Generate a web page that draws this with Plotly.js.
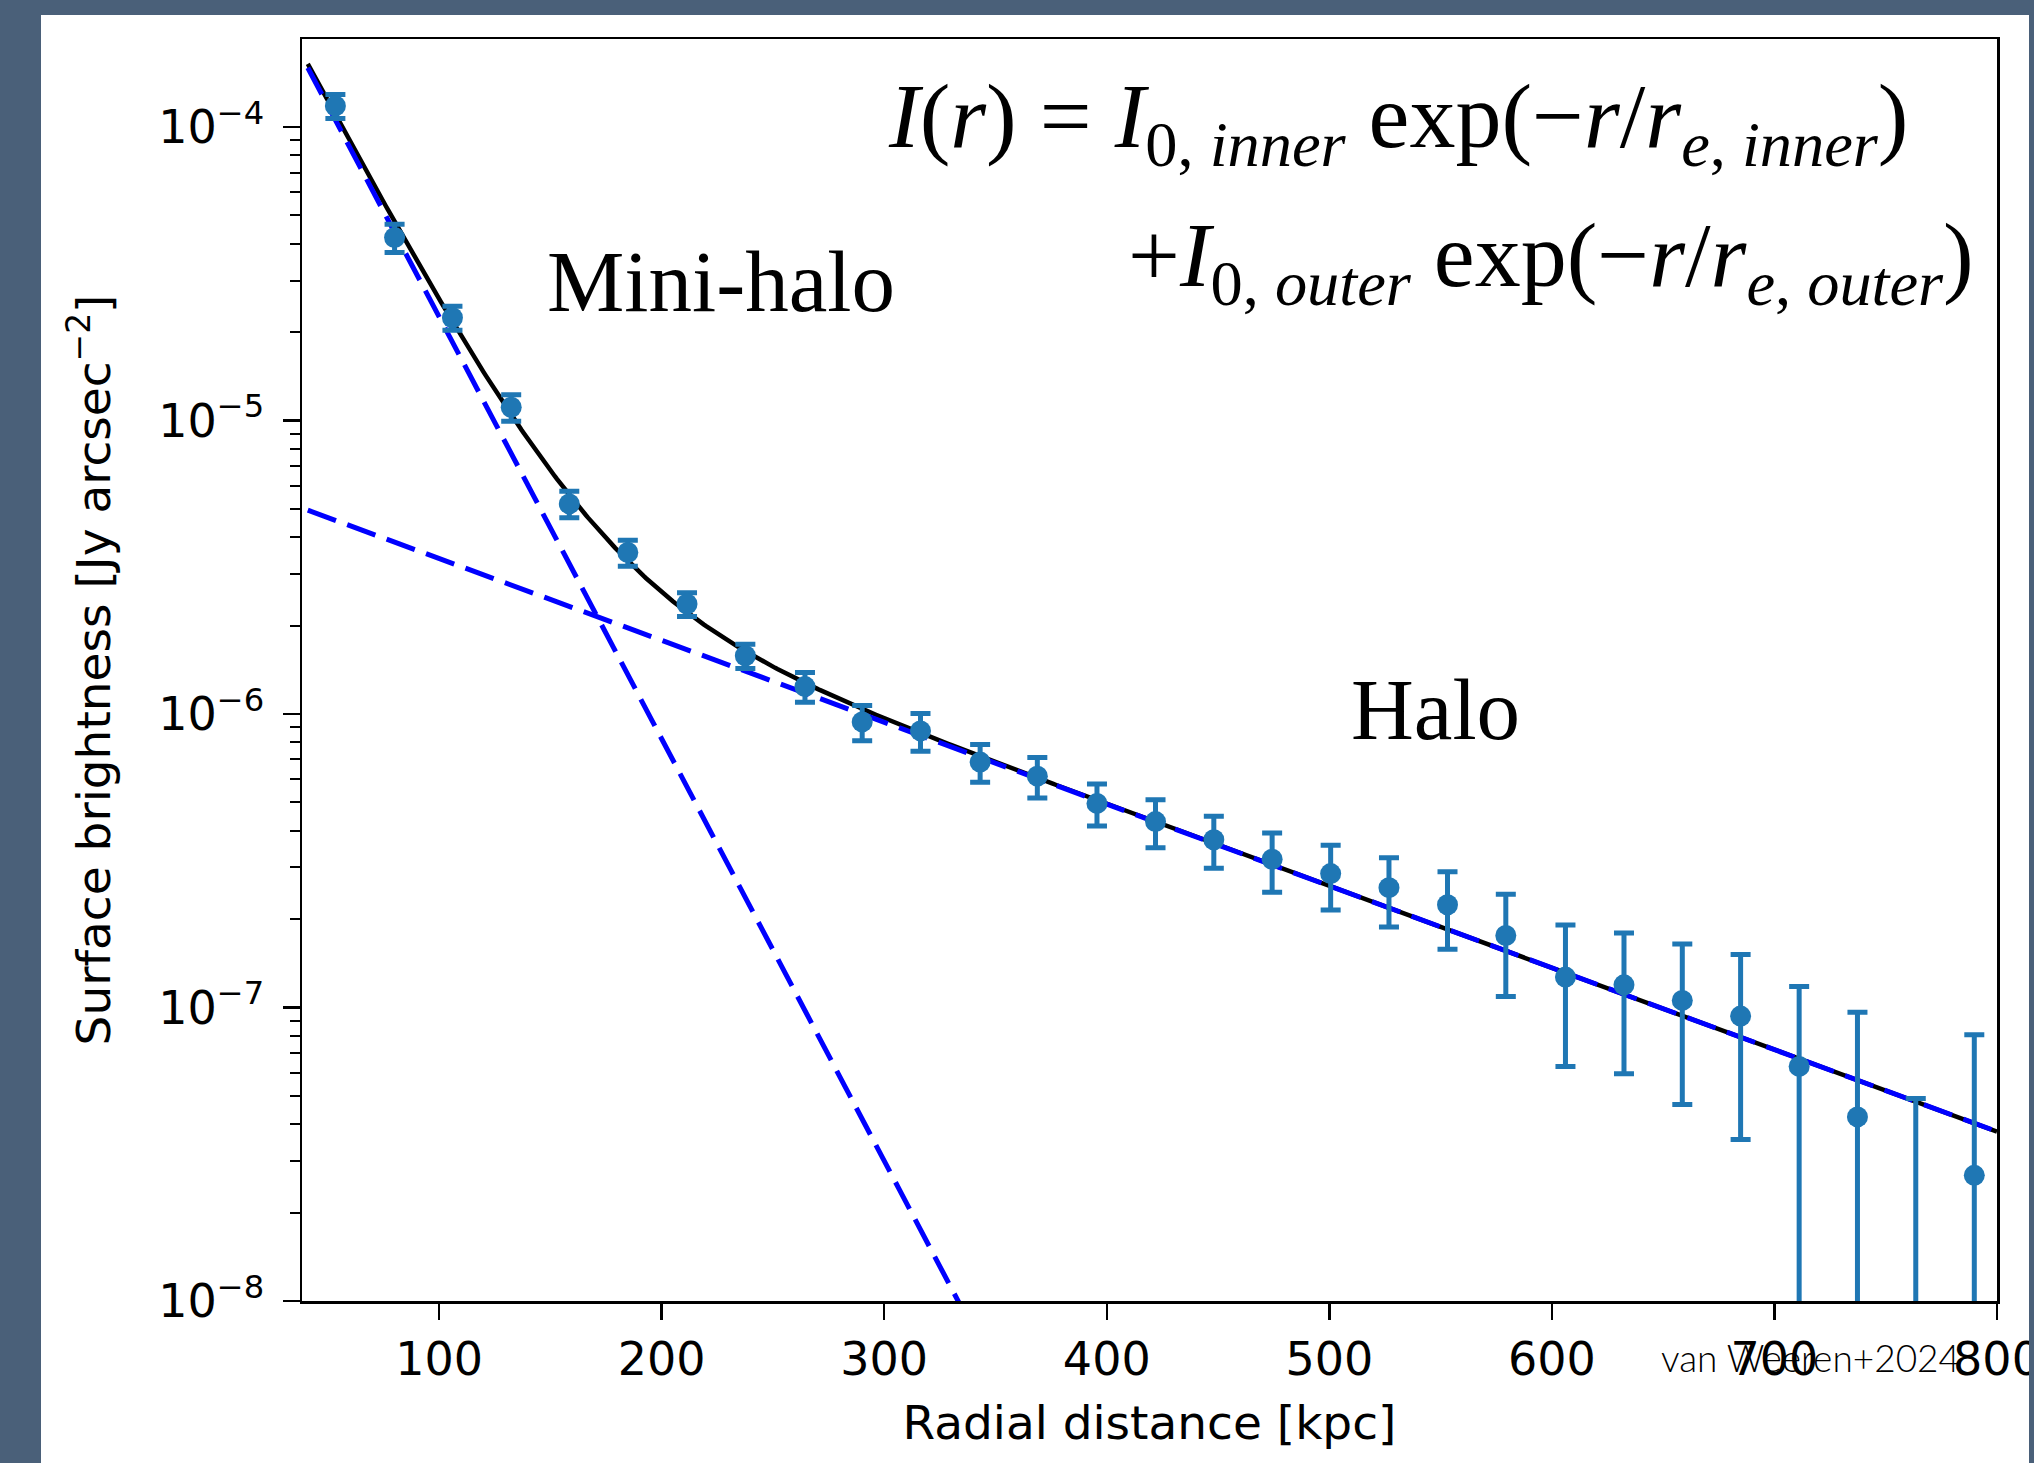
<!DOCTYPE html>
<html><head><meta charset="utf-8">
<script src="https://cdn.plot.ly/plotly-3.0.1.min.js"></script>
<style>
html,body{margin:0;padding:0;background:#4a6079;width:2034px;height:1463px;overflow:hidden;}
#chart{position:absolute;left:41px;top:15px;width:1988px;height:1448px;background:#fff;overflow:hidden;}
</style></head><body><div id="chart"></div>
<script>
// Radial bins [kpc]
const radius = [53.4, 80.0, 106.0, 132.4, 158.5, 184.8, 211.4, 237.6, 264.4, 290.1,
  316.3, 343.1, 368.8, 395.6, 421.9, 448.1, 474.3, 500.6, 526.8, 553.1,
  579.3, 606.1, 632.4, 658.6, 684.8, 711.1, 737.3, 763.5, 789.8];
// Surface brightness [Jy arcsec^-2]
const brightness = [1.18e-4, 4.20e-5, 2.24e-5, 1.11e-5, 5.20e-6, 3.55e-6, 2.37e-6, 1.58e-6, 1.24e-6, 9.4e-7,
  8.76e-7, 6.86e-7, 6.14e-7, 4.96e-7, 4.30e-7, 3.73e-7, 3.20e-7, 2.86e-7, 2.56e-7, 2.24e-7,
  1.76e-7, 1.27e-7, 1.195e-7, 1.057e-7, 9.35e-8, 6.3e-8, 4.24e-8, 4e-9, 2.68e-8];
// 1-sigma uncertainties
const brightnessErr = [1.1e-5, 4.6e-6, 2.1e-6, 1.15e-6, 5.4e-7, 3.6e-7, 2.2e-7, 1.5e-7, 1.44e-7, 1.29e-7,
  1.29e-7, 1.01e-7, 0.97e-7, 0.81e-7, 0.80e-7, 0.75e-7, 0.73e-7, 0.71e-7, 0.68e-7, 0.66e-7,
  0.67e-7, 6.4e-8, 6.0e-8, 5.9e-8, 5.8e-8, 5.5e-8, 5.4e-8, 4.5e-8, 5.4e-8];

// Fitted double-exponential model parameters
const I0Inner = 6.19e-4, reInner = 30.2;   // mini-halo component
const I0Outer = 6.44e-6, reOuter = 155.7;  // halo component
const modelStart = 41, modelEnd = 800, modelStep = 1;

const xTickVals = [100, 200, 300, 400, 500, 600, 700, 800];
const yTickVals = [1e-8, 1e-7, 1e-6, 1e-5, 1e-4];
const yTickText = ['10<sup>−8</sup>', '10<sup>−7</sup>', '10<sup>−6</sup>', '10<sup>−5</sup>', '10<sup>−4</sup>'];

// model curves
const modelR = [], innerY = [], outerY = [], totalY = [];
for (let r = modelStart; r <= modelEnd; r += modelStep) {
  const a = I0Inner * Math.exp(-r / reInner);
  const b = I0Outer * Math.exp(-r / reOuter);
  modelR.push(r); innerY.push(a); outerY.push(b); totalY.push(a + b);
}
// minor log ticks
const minorVals = [];
for (let d = -9; d <= -4; d++) for (let k = 2; k <= 9; k++) minorVals.push(k * Math.pow(10, d));

const dashStyle = '30px,12px';
const traces = [
  {x: modelR, y: totalY, mode: 'lines', line: {color: '#000000', width: 4.5}, hoverinfo: 'skip'},
  {x: modelR, y: innerY, mode: 'lines', line: {color: '#0000ff', width: 5, dash: dashStyle}, hoverinfo: 'skip'},
  {x: modelR, y: outerY, mode: 'lines', line: {color: '#0000ff', width: 5, dash: dashStyle}, hoverinfo: 'skip'},
  {x: radius, y: brightness, mode: 'markers', marker: {color: '#1f77b4', size: 21},
   error_y: {type: 'data', array: brightnessErr, symmetric: true, color: '#1f77b4', thickness: 5, width: 10}}
];

const tickFont = {family: 'DejaVu Sans', size: 46, color: '#000'};
const titleFont = {family: 'DejaVu Sans', size: 47, color: '#000'};
const serif = 'Liberation Serif';

const layout = {
  width: 1988, height: 1448,
  margin: {l: 261, r: 32, t: 23.5, b: 162, pad: 0},
  paper_bgcolor: '#ffffff', plot_bgcolor: '#ffffff',
  showlegend: false,
  xaxis: {
    range: [38.4, 800], tickmode: 'array', tickvals: xTickVals,
    ticks: 'outside', ticklen: 16, tickwidth: 2.5, tickcolor: '#000',
    showline: true, linecolor: '#000', linewidth: 2.5, mirror: true,
    showgrid: false, zeroline: false, automargin: false, ticklabeloverflow: 'allow',
    tickfont: tickFont,
    title: {text: 'Radial distance [kpc]', font: titleFont, standoff: 22}
  },
  yaxis: {
    type: 'log', range: [-8, -3.70], tickmode: 'array', tickvals: yTickVals, ticktext: yTickText,
    ticks: 'outside', ticklen: 17, tickwidth: 2.5, tickcolor: '#000', ticklabelstandoff: 9,
    minor: {tickmode: 'array', tickvals: minorVals, ticks: 'outside', ticklen: 10, tickwidth: 2, tickcolor: '#000', showgrid: false},
    showline: true, linecolor: '#000', linewidth: 2.5, mirror: true,
    showgrid: false, zeroline: false, automargin: false,
    tickfont: tickFont,
    title: {text: 'Surface brightness [Jy arcsec<sup>−2</sup>]', font: titleFont, standoff: 33}
  },
  annotations: [
    {xref: 'paper', yref: 'paper', x: 0.3445, y: 0.934, xanchor: 'left', yanchor: 'middle', showarrow: false,
     text: '<i>I</i>(<i>r</i>) = <i>I</i><sub>0, <i>inner</i></sub> exp(−<i>r</i>/<i>r</i><sub><i>e</i>, <i>inner</i></sub>)',
     font: {family: serif, size: 92, color: '#000'}},
    {xref: 'paper', yref: 'paper', x: 0.4861, y: 0.8235, xanchor: 'left', yanchor: 'middle', showarrow: false,
     text: '+<i>I</i><sub>0, <i>outer</i></sub> exp(−<i>r</i>/<i>r</i><sub><i>e</i>, <i>outer</i></sub>)',
     font: {family: serif, size: 92, color: '#000'}},
    {xref: 'paper', yref: 'paper', x: 0.1434, y: 0.808, xanchor: 'left', yanchor: 'middle', showarrow: false,
     text: 'Mini-halo', font: {family: serif, size: 87, color: '#000'}},
    {xref: 'paper', yref: 'paper', x: 0.6175, y: 0.4685, xanchor: 'left', yanchor: 'middle', showarrow: false,
     text: 'Halo', font: {family: serif, size: 87, color: '#000'}},
    {xref: 'paper', yref: 'paper', x: 0.8005, y: -0.0450, xanchor: 'left', yanchor: 'middle', showarrow: false,
     text: 'van Weeren+2024', font: {family: 'Lato', size: 37, weight: 300, color: '#000'}}
  ]
};

Plotly.newPlot('chart', traces, layout, {displayModeBar: false, staticPlot: true});
</script></body></html>
